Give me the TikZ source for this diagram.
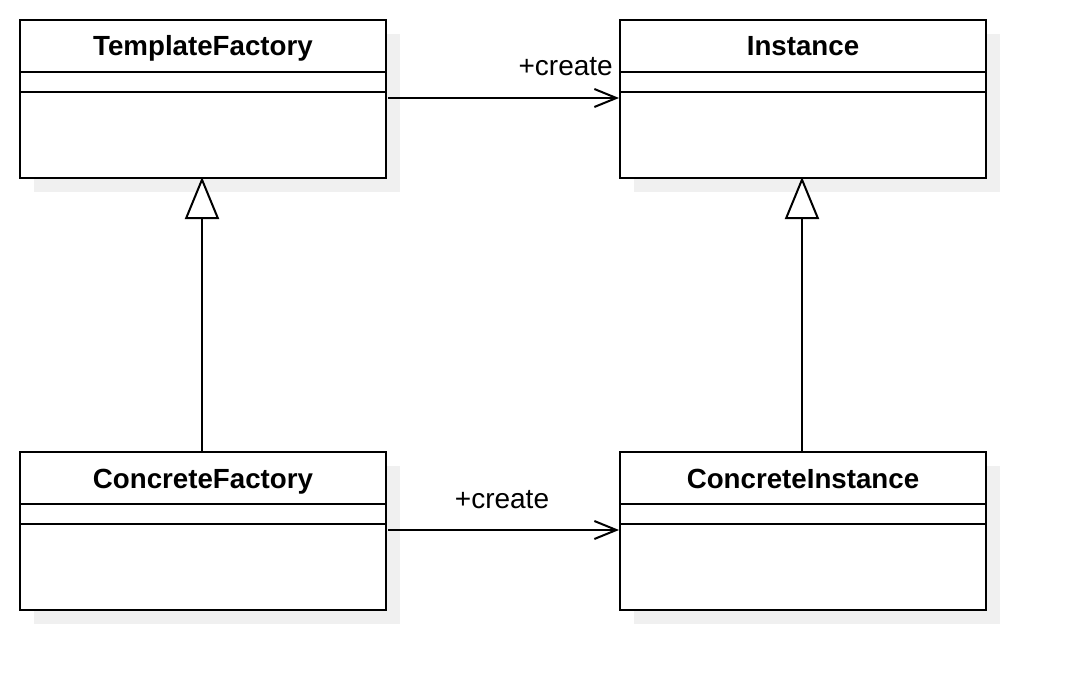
\documentclass[tikz,border=0pt]{standalone}
\usepackage{fontspec}
\setmainfont{Liberation Sans}
\usetikzlibrary{arrows.meta,shadows,calc}
\begin{document}
\begin{tikzpicture}[x=1pt,y=-1pt,
  classbox/.style={draw=black, line width=2pt, fill=white, rectangle,
    minimum width=366pt, minimum height=158pt, inner sep=0pt,
    general shadow={fill=black!6, shadow xshift=14pt, shadow yshift=-14pt}},
  classname/.style={font=\fontsize{27.7}{32}\selectfont\bfseries, anchor=base, inner sep=0pt},
  lbl/.style={font=\fontsize{28}{32}\selectfont, inner sep=0pt},
  assoc/.style={line width=2pt, -{Straight Barb[length=22pt,width=18pt,line width=2pt]}},
  gen/.style={line width=2pt, -{Triangle[open,length=42pt,width=34pt,line width=2pt,fill=white]}}
]
\useasboundingbox (0,0) rectangle (1066,690);

\node[classbox] (tf) at (203,99) {};
\node[classbox] (inst) at (803,99) {};
\node[classbox] (cf) at (203,531) {};
\node[classbox] (ci) at (803,531) {};

\foreach \n/\t in {tf/TemplateFactory, inst/Instance, cf/ConcreteFactory, ci/ConcreteInstance}{
  \draw[line width=2pt] ($(\n.north west)+(0,53)$) -- ($(\n.north east)+(0,53)$);
  \draw[line width=2pt] ($(\n.north west)+(0,73)$) -- ($(\n.north east)+(0,73)$);
  \node[classname] (\n-name) at ($(\n.north)+(0,37)$) {\t};
}

\coordinate (a1) at ($(tf.north east)+(1,79)$);
\draw[assoc] (a1) -- (a1 -| inst.west);
\node[lbl, anchor=base east] (l1) at (613,76) {+create};

\coordinate (a2) at ($(cf.north east)+(1,79)$);
\draw[assoc] (a2) -- (a2 -| ci.west);
\node[lbl, anchor=base] (l2) at (502,508) {+create};

\draw[gen] ($(cf.north)+(-1,0)$) -- ($(tf.south)+(-1,-2)$);
\draw[gen] ($(ci.north)+(-1,0)$) -- ($(inst.south)+(-1,-2)$);
\end{tikzpicture}
\end{document}
